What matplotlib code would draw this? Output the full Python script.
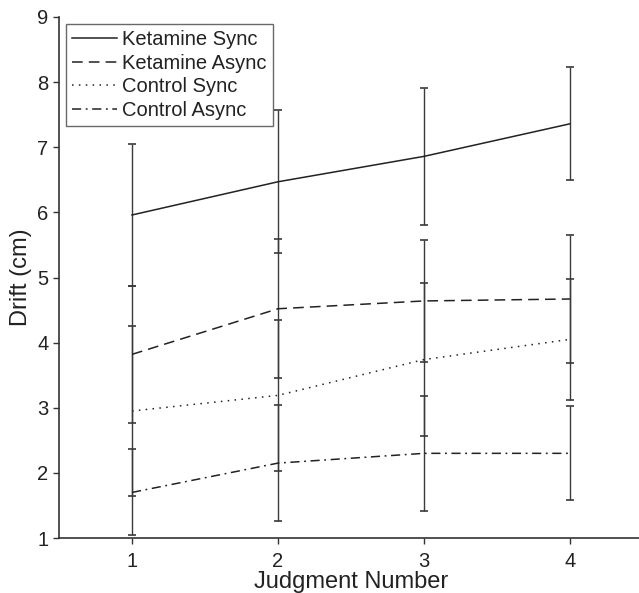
import matplotlib
matplotlib.use("Agg")
import matplotlib.pyplot as plt

plt.rcParams['font.family'] = ['Liberation Sans', 'DejaVu Sans']

judgments = [1, 2, 3, 4]
series_names = ["Ketamine Sync", "Ketamine Async", "Control Sync", "Control Async"]

ket_sync = [5.96, 6.47, 6.86, 7.36]
ket_sync_err = [1.09, 1.10, 1.05, 0.87]
ket_async = [3.82, 4.52, 4.64, 4.67]
ket_async_err = [1.05, 1.07, 0.93, 0.98]
ctl_sync = [2.95, 3.19, 3.74, 4.05]
ctl_sync_err = [1.31, 1.16, 1.18, 0.93]
ctl_async = [1.70, 2.15, 2.30, 2.30]
ctl_async_err = [0.66, 0.89, 0.88, 0.72]

yticks = [1, 2, 3, 4, 5, 6, 7, 8, 9]

W, H = 639, 593
fig = plt.figure(figsize=(W / 100, H / 100), dpi=100)
ax = fig.add_axes([59 / W, 55 / H, 584 / W, 521 / H])

styles = [
    dict(linestyle='-'),
    dict(linestyle=(0, (7, 4))),
    dict(linestyle=(0, (1, 3.5))),
    dict(linestyle=(0, (6, 3, 1.2, 3))),
]
data = [(ket_sync, ket_sync_err), (ket_async, ket_async_err),
        (ctl_sync, ctl_sync_err), (ctl_async, ctl_async_err)]

for (m, e), name, st in zip(data, series_names, styles):
    ax.errorbar(judgments, m, yerr=e, color='#222222', ecolor='#3a3a3a',
                elinewidth=1.0, capsize=3.2, capthick=1.2, linewidth=1.1,
                label=name, **st)

ax.set_xlim(0.5, 4.5)
ax.set_ylim(1, 9)
ax.set_xticks(judgments)
ax.set_yticks(yticks)
ax.spines['top'].set_visible(False)
ax.spines['right'].set_visible(False)
for s in ('left', 'bottom'):
    ax.spines[s].set_color('#333333')
    ax.spines[s].set_linewidth(1.2)
ax.tick_params(direction='out', length=4, width=1, colors='#333333',
               labelsize=14.5, labelcolor='#222222')
ax.tick_params(axis='x', pad=6)
ax.set_xlabel("Judgment Number", fontsize=17, color='#222222', labelpad=0)
ax.set_ylabel("Drift (cm)", fontsize=17, color='#222222', labelpad=4)

handles, labels = ax.get_legend_handles_labels()
handles = [h[0] for h in handles]
leg = ax.legend(handles, labels, loc='upper left', fontsize=14.5, frameon=True,
                fancybox=False, edgecolor='#444444', handlelength=2.2,
                handletextpad=0.25, labelspacing=0.22, borderpad=0.32,
                borderaxespad=0.35)
leg.get_frame().set_linewidth(1.0)
for t in leg.get_texts():
    t.set_color('#222222')

fig.savefig("out.png", dpi=100)
